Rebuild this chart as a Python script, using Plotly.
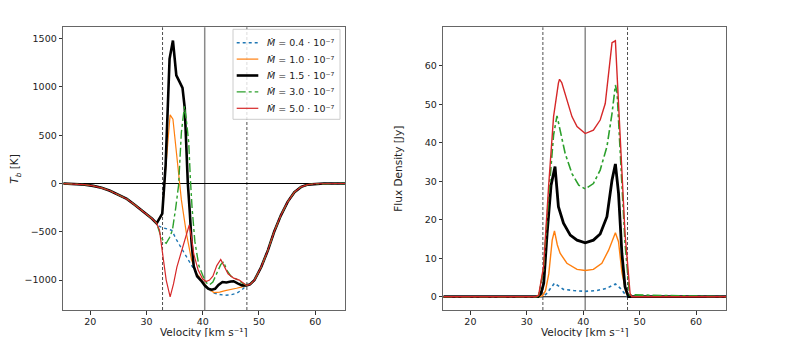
import plotly.graph_objects as go

# Ejes comunes
V_CENTRO = 40.35
V_BORDES = [32.85, 47.85]
V_MIN, V_MAX = 15.2, 65.3

# --- Panel izquierdo: temperatura de brillo ---
# alas comunes a todas las curvas
V_ALA_IZQ = [15.2, 17.5, 19, 20.5, 22, 23.5, 25, 26.5, 28, 29, 30, 31]
TB_ALA_IZQ = [-1, -5, -12, -25, -45, -75, -115, -160, -225, -270, -315, -365]
V_ALA_DER = [48.4, 49.2, 50.4, 51.6, 52.7, 53.9, 55.1, 56.3, 57.5, 58.7, 60, 61.5, 63, 65.3]
TB_ALA_DER = [-1045, -1000, -865, -690, -500, -330, -190, -90, -35, -12, -3, 0, 0, 0]

V_TB_04 = [31.8, 32.3, 33.0, 33.8, 34.5, 35.3, 36.0, 36.6, 37.7, 38.9, 40.1, 41.0, 42.0,
           43.0, 44.0, 45.0, 46.0, 47.0, 47.8]
TB_04 = [-414, -445, -460, -470, -485, -580, -650, -710, -830, -935, -1020, -1090, -1135,
         -1150, -1157, -1152, -1138, -1100, -1055]

V_TB_10 = [31.8, 32.3, 32.8, 33.4, 34.2, 34.7, 35.35, 35.9, 36.2, 37.1, 38.0, 38.9, 40.0,
           41.0, 42.0, 43.0, 44.0, 45.0, 46.0, 47.0, 47.8]
TB_10 = [-414, -370, -320, 150, 710, 665, 330, 20, -170, -520, -790, -930, -1010,
         -1090, -1130, -1125, -1110, -1100, -1085, -1070, -1055]

V_TB_15 = [31.8, 32.3, 32.8, 33.4, 34.1, 34.7, 35.3, 35.9, 36.4, 36.8, 37.35, 37.7, 38.0,
           38.4, 39.0, 39.7, 40.4, 41.0, 41.6, 42.2, 42.8, 43.5, 44.2, 45.0, 45.5, 46.2,
           47.0, 47.8]
TB_15 = [-414, -362, -312, 190, 1290, 1480, 1120, 1050, 990, 780, 0, -300, -600,
         -860, -960, -1005, -1060, -1090, -1100, -1090, -1050, -1020, -1025, -1015, -1012, -1035,
         -1055, -1055]

V_TB_30 = [31.8, 32.4, 33.0, 33.5, 34.1, 34.6, 35.2, 35.7, 36.2, 36.75, 37.1, 37.5, 37.8,
           38.1, 38.6, 39.3, 40.1, 40.7, 41.2, 41.8, 42.5, 43.2, 43.7, 44.3, 45.0, 46.0,
           47.0, 47.8]
TB_30 = [-414, -520, -600, -620, -560, -485, -250, -20, 530, 800, 650, 430, 50,
         -250, -600, -850, -965, -1030, -1050, -1020, -930, -840, -810, -900, -960, -990,
         -1030, -1055]

V_TB_50 = [31.8, 32.3, 32.8, 33.5, 34.2, 34.8, 35.4, 36.3, 37.0, 37.6, 38.0, 38.4, 39.2,
           40.0, 40.6, 41.2, 41.8, 42.5, 43.2, 43.8, 44.5, 45.5, 46.5, 47.2, 47.8]
TB_50 = [-414, -480, -700, -1000, -1175, -1040, -865, -690, -560, -430, -560, -730, -900,
         -990, -1015, -1000, -960, -850, -787, -850, -935, -980, -1000, -1030, -1055]

# --- Panel derecho: densidad de flujo ---
V_F_04 = [15.2, 32.8, 33.5, 34.3, 34.9, 35.6, 36.5, 38.3, 40.35, 42.4, 44.2, 45.1, 45.7,
          46.5, 47.2, 47.8, 65.3]
F_04 = [0, 0, 0.8, 2.5, 3.5, 2.8, 1.9, 1.6, 1.4, 1.6, 2.2, 2.9, 3.3, 2.3, 0.9, 0, 0]

V_F_10 = [15.2, 32.3, 32.8, 33.3, 33.9, 34.5, 34.9, 35.4, 35.9, 37.1, 38.9, 40.35, 41.8,
          43.3, 44.5, 45.1, 45.7, 46.25, 46.85, 47.6, 48.2, 65.3]
F_10 = [0, 0, 0.3, 1.5, 6, 14.7, 17.1, 13.5, 11.3, 8.7, 7.1, 6.8, 7.1,
        8.7, 12.1, 14.5, 16.6, 14.3, 6.4, 1, 0, 0]

V_F_15 = [15.2, 32.0, 32.5, 33.0, 33.6, 34.3, 35.0, 35.6, 36.5, 37.7, 38.9, 40.35, 41.8,
          43.0, 44.2, 45.1, 45.7, 46.25, 46.85, 47.4, 48.0, 65.3]
F_15 = [0, 0, 0.8, 3.5, 16.5, 29, 33.8, 23.4, 19.1, 16, 14.7, 14.0, 14.7,
        16.3, 20.8, 30.3, 34.5, 26.9, 11.3, 2.6, 0, 0]

V_F_30 = [15.2, 31.8, 32.1, 32.97, 33.86, 34.74, 35.35, 35.9, 36.8, 38.0, 39.2, 40.35, 41.8,
          43.0, 44.2, 45.1, 45.7, 46.0, 46.55, 47.4, 48.2, 65.3]
F_30 = [0, 0, 0.4, 7, 26, 42, 47, 43.3, 37.2, 32, 29, 28, 29.4,
        32.9, 39, 47.6, 55, 53, 37, 14, 0.5, 0]

V_F_50 = [15.2, 31.6, 32.1, 32.97, 33.86, 34.74, 35.6, 35.8, 36.2, 37.1, 38.0, 38.9, 40.35,
          41.8, 43.0, 43.9, 44.8, 45.1, 45.7, 46.55, 47.4, 48.3, 48.6, 65.3]
F_50 = [0, 0, 0.4, 7.8, 28.6, 46.8, 55.5, 56.5, 55.6, 51.1, 46.8, 44.2, 42.4,
        43.3, 45.9, 50.2, 61.5, 66, 66.5, 42.4, 16.5, 0.9, 0, 0]

ETIQUETAS = ["0.4", "1.0", "1.5", "3.0", "5.0"]
COLORES = ["#1f77b4", "#ff7f0e", "#000000", "#2ca02c", "#d62728"]
ESTILOS = ["dot", "solid", "solid", "dashdot", "solid"]
ANCHOS = [1.4, 1.2, 2.6, 1.4, 1.2]

series_tb = [(V_TB_04, TB_04), (V_TB_10, TB_10), (V_TB_15, TB_15), (V_TB_30, TB_30), (V_TB_50, TB_50)]
series_f = [(V_F_04, F_04), (V_F_10, F_10), (V_F_15, F_15), (V_F_30, F_30), (V_F_50, F_50)]

FUENTE = "DejaVu Sans"
ANCHO, ALTO = 773, 329  # el body del html deja 8 px de margen


def px_x(X):
    # pixel de ventana -> coordenada paper
    return (X - 8) / ANCHO


def px_y(Y):
    return 1 - (Y - 8) / ALTO


fig = go.Figure()

for i, (v, tb) in enumerate(series_tb):
    fig.add_trace(go.Scatter(
        x=V_ALA_IZQ + v + V_ALA_DER, y=TB_ALA_IZQ + tb + TB_ALA_DER,
        mode="lines", name="Ṁ = " + ETIQUETAS[i] + " · 10⁻⁷", showlegend=False,
        line=dict(color=COLORES[i], dash=ESTILOS[i], width=ANCHOS[i]),
        xaxis="x", yaxis="y",
    ))

for i, (v, f) in enumerate(series_f):
    fig.add_trace(go.Scatter(
        x=v, y=f, mode="lines", showlegend=False,
        line=dict(color=COLORES[i], dash=ESTILOS[i], width=ANCHOS[i] + 0.2),
        xaxis="x2", yaxis="y2",
    ))

# lineas de referencia
for xr, yr in [("x", "y"), ("x2", "y2")]:
    fig.add_shape(type="line", xref=xr, yref=yr + " domain", x0=V_CENTRO, x1=V_CENTRO,
                  y0=0, y1=1, line=dict(color="#8a8a8a", width=1.5), layer="below")
    for vb in V_BORDES:
        fig.add_shape(type="line", xref=xr, yref=yr + " domain", x0=vb, x1=vb,
                      y0=0, y1=1, line=dict(color="#222", width=0.8, dash="3px,2px"), layer="below")
    fig.add_shape(type="line", xref=xr + " domain", yref=yr, x0=0, x1=1, y0=0, y1=0,
                  line=dict(color="#000", width=1.1), layer="below")

# leyenda dibujada a mano (matplotlib usa filas mas juntas que plotly)
fig.add_shape(type="rect", xref="paper", yref="paper",
              x0=px_x(233), x1=px_x(340), y0=px_y(119.3), y1=px_y(29.3),
              line=dict(color="#cccccc", width=1), fillcolor="rgba(255,255,255,0.8)", layer="above")
anotaciones = []
for i in range(5):
    yc = px_y(42.7 + 16.4 * i)
    fig.add_shape(type="line", xref="paper", yref="paper",
                  x0=px_x(236.7), x1=px_x(258.3), y0=yc, y1=yc,
                  line=dict(color=COLORES[i], dash=ESTILOS[i], width=ANCHOS[i]), layer="above")
    anotaciones.append(dict(
        text="<i>Ṁ</i> = " + ETIQUETAS[i] + " · 10⁻⁷", x=px_x(265), y=yc,
        xref="paper", yref="paper", xanchor="left", yanchor="middle", showarrow=False,
        font=dict(family=FUENTE, size=9.5, color="#222"),
    ))

eje = dict(
    showgrid=False, zeroline=False, showline=True, mirror=True,
    linecolor="#666", linewidth=1.3, ticks="outside", ticklen=3.5, tickwidth=0.8,
    tickcolor="#333", tickfont=dict(family=FUENTE, size=9.5, color="#222"),
)

dom_y = [px_y(310), px_y(27.3)]
titulo = dict(family=FUENTE, size=10.5, color="#222")

fig.update_layout(
    width=ANCHO, height=ALTO,
    margin=dict(l=0, r=0, t=0, b=0),
    paper_bgcolor="white", plot_bgcolor="white",
    font=dict(family=FUENTE, size=9.5, color="#222"),
    showlegend=False,
    xaxis=dict(eje, domain=[px_x(63.3), px_x(345)], range=[V_MIN, V_MAX],
               tickvals=[20, 30, 40, 50, 60], anchor="y", ticklabelstandoff=-1),
    yaxis=dict(eje, domain=dom_y, range=[-1310, 1617],
               tickvals=[-1000, -500, 0, 500, 1000, 1500], anchor="x"),
    xaxis2=dict(eje, domain=[px_x(443.3), px_x(726)], range=[V_MIN, V_MAX],
                tickvals=[20, 30, 40, 50, 60], anchor="y2", ticklabelstandoff=-1),
    yaxis2=dict(eje, domain=dom_y, range=[-3.45, 70],
                tickvals=[0, 10, 20, 30, 40, 50, 60], anchor="x2"),
    annotations=anotaciones + [
        dict(text="Velocity [km s⁻¹]", x=px_x(204), y=px_y(332), xref="paper", yref="paper",
             xanchor="center", yanchor="middle", showarrow=False, font=titulo),
        dict(text="Velocity [km s⁻¹]", x=px_x(584.7), y=px_y(332), xref="paper", yref="paper",
             xanchor="center", yanchor="middle", showarrow=False, font=titulo),
        dict(text="<i>T</i><sub><i>b</i></sub> [K]", x=px_x(15), y=px_y(168.7), xref="paper", yref="paper",
             xanchor="center", yanchor="middle", textangle=-90, showarrow=False, font=titulo),
        dict(text="Flux Density [Jy]", x=px_x(398), y=px_y(168.7), xref="paper", yref="paper",
             xanchor="center", yanchor="middle", textangle=-90, showarrow=False, font=titulo),
    ],
)

fig.write_html("out.html")
